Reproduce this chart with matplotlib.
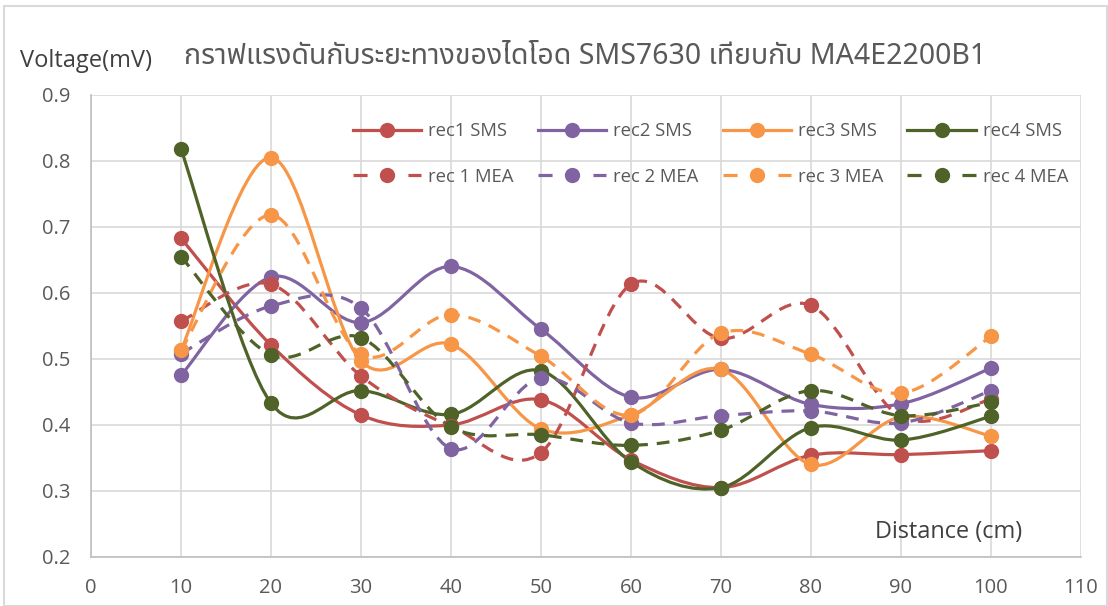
import matplotlib
matplotlib.use('Agg')
import matplotlib.pyplot as plt
from matplotlib.path import Path
from matplotlib.patches import PathPatch, Rectangle
from matplotlib.lines import Line2D

# Data
distance = [10, 20, 30, 40, 50, 60, 70, 80, 90, 100]
rec1_sms = [0.683, 0.521, 0.415, 0.400, 0.438, 0.347, 0.305, 0.354, 0.355, 0.361]
rec2_sms = [0.475, 0.624, 0.555, 0.640, 0.545, 0.442, 0.484, 0.431, 0.432, 0.486]
rec3_sms = [0.513, 0.805, 0.497, 0.522, 0.394, 0.415, 0.484, 0.340, 0.412, 0.383]
rec4_sms = [0.818, 0.433, 0.452, 0.416, 0.482, 0.344, 0.305, 0.396, 0.377, 0.413]
rec1_mea = [0.557, 0.613, 0.474, 0.398, 0.358, 0.613, 0.531, 0.581, 0.412, 0.439]
rec2_mea = [0.508, 0.580, 0.577, 0.364, 0.471, 0.403, 0.414, 0.421, 0.403, 0.452]
rec3_mea = [0.513, 0.718, 0.507, 0.567, 0.504, 0.415, 0.539, 0.507, 0.448, 0.534]
rec4_mea = [0.655, 0.506, 0.532, 0.397, 0.385, 0.369, 0.392, 0.452, 0.414, 0.434]

labels = ['rec1 SMS', 'rec2 SMS', 'rec3 SMS', 'rec4 SMS',
          'rec 1 MEA', 'rec 2 MEA', 'rec 3 MEA', 'rec 4 MEA']
values = [rec1_sms, rec2_sms, rec3_sms, rec4_sms,
          rec1_mea, rec2_mea, rec3_mea, rec4_mea]
colors = ['#C0504D', '#8064A2', '#F79646', '#4F6228'] * 2
dashed = [False] * 4 + [True] * 4

title = 'กราฟแรงดันกับระยะทางของไดโอด SMS7630 เทียบกับ MA4E2200B1'


def smooth_path(xs, ys):
    # Excel-like smoothed line: Catmull-Rom segments as cubic Bezier curves
    pts = list(zip(xs, ys))
    verts = [pts[0]]
    codes = [Path.MOVETO]
    n = len(pts)
    for i in range(n - 1):
        p0 = pts[max(i - 1, 0)]
        p1 = pts[i]
        p2 = pts[i + 1]
        p3 = pts[min(i + 2, n - 1)]
        c1 = (p1[0] + (p2[0] - p0[0]) / 6, p1[1] + (p2[1] - p0[1]) / 6)
        c2 = (p2[0] - (p3[0] - p1[0]) / 6, p2[1] - (p3[1] - p1[1]) / 6)
        verts += [c1, c2, p2]
        codes += [Path.CURVE4] * 3
    return Path(verts, codes)


plt.rcParams['font.family'] = ['Open Sans', 'DejaVu Sans']
dash = (0, (4, 2.8))

fig = plt.figure(figsize=(11.08, 6.06), dpi=100)
ax = fig.add_axes([0.0821, 0.081, 0.8935, 0.7625])

for ys, c, d in zip(values, colors, dashed):
    patch = PathPatch(smooth_path(distance, ys), facecolor='none', edgecolor=c,
                      linewidth=2.3, linestyle=dash if d else '-',
                      capstyle='butt', joinstyle='round')
    ax.add_patch(patch)
    ax.plot(distance, ys, linestyle='none', marker='o', markersize=10,
            color=c, markeredgecolor=c)

ax.set_xlim(0, 110)
ax.set_ylim(0.2, 0.9)
ax.set_xticks(range(0, 111, 10))
ax.set_yticks([0.2, 0.3, 0.4, 0.5, 0.6, 0.7, 0.8, 0.9])
ax.set_yticklabels(['0.2', '0.3', '0.4', '0.5', '0.6', '0.7', '0.8', '0.9'])
ax.grid(True, color='#D9D9D9', linewidth=1.2)
ax.set_axisbelow(True)
for side in ['top', 'right']:
    ax.spines[side].set_visible(False)
for side in ['left', 'bottom']:
    ax.spines[side].set_color('#BFBFBF')
    ax.spines[side].set_linewidth(1.2)
ax.tick_params(axis='both', length=0, labelsize=14.5, labelcolor='#595959')
ax.tick_params(axis='x', pad=15)
ax.tick_params(axis='y', pad=15)

# legend filled row by row (matplotlib fills columns first)
order = [0, 4, 1, 5, 2, 6, 3, 7]
handles = [Line2D([0], [0], color=colors[i], linestyle=(0, (4.4, 12.8)) if dashed[i] else '-',
                  linewidth=2.3, marker='o', markersize=10) for i in order]
fig.legend(handles, [labels[i] for i in order], ncol=4, loc='upper left',
           bbox_to_anchor=(353 / 1108, 1 - 122 / 606), borderpad=0, borderaxespad=0,
           frameon=False, prop={'size': 13.3}, labelcolor='#595959', handlelength=3.7,
           handletextpad=0.38, columnspacing=1.3, labelspacing=1.5)

fig.text(0.018, 0.9, 'Voltage(mV)', fontsize=17, color='#404040', va='center')
fig.text(0.528, 0.906, title, fontsize=20.5, color='#595959', ha='center', va='center',
         family=['Noto Sans Thai', 'Sarabun', 'Open Sans', 'DejaVu Sans'])
ax.text(0.941, 0.054, 'Distance (cm)', transform=ax.transAxes, fontsize=16.9,
        color='#404040', ha='right', va='center')

fig.patches.append(Rectangle((0.004, 0.0), 0.995, 0.99, transform=fig.transFigure,
                             fill=False, edgecolor='#D9D9D9', linewidth=1.5))

fig.savefig('out.png', dpi=100, facecolor='white')
